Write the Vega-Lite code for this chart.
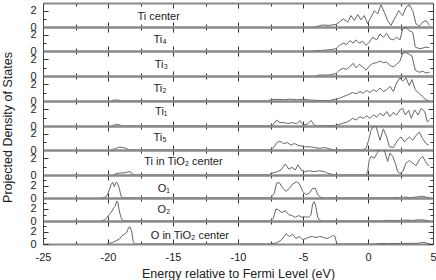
{
"$schema": "https://vega.github.io/schema/vega-lite/v6.json",
"padding": {"left": 1, "top": 2, "right": 0, "bottom": 0},
"background": "white",
"spacing": 0,
"bounds": "flush",
"datasets": {
"labels": [
{"p":"tc","label":"Ti center"},{"p":"t4","label":"Ti₄"},{"p":"t3","label":"Ti₃"},{"p":"t2","label":"Ti₂"},{"p":"t1","label":"Ti₁"},{"p":"t5","label":"Ti₅"},{"p":"tt","label":"Ti in TiO₂ center"},{"p":"o1","label":"O₁"},{"p":"o2","label":"O₂"},{"p":"ot","label":"O in TiO₂ center"}
],
"pdos": [
{"p":"tc","e":-4.2,"v":0},{"p":"tc","e":-4.0,"v":0.05},{"p":"tc","e":-3.49,"v":0.24},{"p":"tc","e":-2.97,"v":0.2},{"p":"tc","e":-2.46,"v":0.32},{"p":"tc","e":-2.21,"v":0.6},{"p":"tc","e":-1.9,"v":1.0},{"p":"tc","e":-1.56,"v":0.6},{"p":"tc","e":-1.31,"v":1.4},{"p":"tc","e":-1.05,"v":0.8},{"p":"tc","e":-0.79,"v":1.53},{"p":"tc","e":-0.54,"v":0.88},{"p":"tc","e":-0.28,"v":1.4},{"p":"tc","e":-0.03,"v":0.4},{"p":"tc","e":0.23,"v":1.2},{"p":"tc","e":0.49,"v":2.0},{"p":"tc","e":0.74,"v":1.6},{"p":"tc","e":1.0,"v":2.73},{"p":"tc","e":1.26,"v":1.8},{"p":"tc","e":1.51,"v":0.8},{"p":"tc","e":1.77,"v":0.2},{"p":"tc","e":2.1,"v":1.2},{"p":"tc","e":2.36,"v":2.0},{"p":"tc","e":2.67,"v":1.4},{"p":"tc","e":2.92,"v":2.4},{"p":"tc","e":3.18,"v":2.73},{"p":"tc","e":3.44,"v":2.0},{"p":"tc","e":3.69,"v":0.4},{"p":"tc","e":3.95,"v":0.08},{"p":"tc","e":4.21,"v":0.6},{"p":"tc","e":4.46,"v":0.8},{"p":"tc","e":4.72,"v":0.2},
{"p":"t4","e":-4.3,"v":0},{"p":"t4","e":-4.0,"v":0.05},{"p":"t4","e":-3.5,"v":0.08},{"p":"t4","e":-3.0,"v":0.15},{"p":"t4","e":-2.46,"v":0.28},{"p":"t4","e":-2.2,"v":0.68},{"p":"t4","e":-1.9,"v":0.96},{"p":"t4","e":-1.64,"v":0.8},{"p":"t4","e":-1.38,"v":1.29},{"p":"t4","e":-1.13,"v":0.96},{"p":"t4","e":-0.92,"v":1.37},{"p":"t4","e":-0.67,"v":0.96},{"p":"t4","e":-0.41,"v":1.2},{"p":"t4","e":-0.15,"v":0.68},{"p":"t4","e":0.1,"v":1.08},{"p":"t4","e":0.36,"v":1.69},{"p":"t4","e":0.67,"v":1.37},{"p":"t4","e":0.92,"v":2.09},{"p":"t4","e":1.18,"v":1.69},{"p":"t4","e":1.44,"v":2.17},{"p":"t4","e":1.69,"v":1.49},{"p":"t4","e":1.95,"v":1.37},{"p":"t4","e":2.2,"v":1.69},{"p":"t4","e":2.46,"v":1.37},{"p":"t4","e":2.67,"v":2.69},{"p":"t4","e":2.92,"v":2.89},{"p":"t4","e":3.18,"v":2.49},{"p":"t4","e":3.44,"v":2.29},{"p":"t4","e":3.64,"v":0.48},{"p":"t4","e":3.95,"v":0.28},{"p":"t4","e":4.21,"v":0.36},{"p":"t4","e":4.46,"v":0.48},{"p":"t4","e":4.72,"v":0.4},
{"p":"t3","e":-4.0,"v":0},{"p":"t3","e":-3.8,"v":0.1},{"p":"t3","e":-3.0,"v":0.12},{"p":"t3","e":-2.46,"v":0.28},{"p":"t3","e":-2.2,"v":0.68},{"p":"t3","e":-1.9,"v":0.92},{"p":"t3","e":-1.64,"v":0.76},{"p":"t3","e":-1.38,"v":1.16},{"p":"t3","e":-1.13,"v":1.49},{"p":"t3","e":-0.92,"v":0.96},{"p":"t3","e":-0.67,"v":1.37},{"p":"t3","e":-0.41,"v":1.08},{"p":"t3","e":-0.15,"v":0.68},{"p":"t3","e":0.1,"v":1.16},{"p":"t3","e":0.36,"v":1.49},{"p":"t3","e":0.67,"v":1.57},{"p":"t3","e":0.92,"v":1.77},{"p":"t3","e":1.18,"v":1.57},{"p":"t3","e":1.44,"v":1.65},{"p":"t3","e":1.69,"v":1.24},{"p":"t3","e":1.95,"v":1.08},{"p":"t3","e":2.2,"v":1.37},{"p":"t3","e":2.46,"v":1.77},{"p":"t3","e":2.67,"v":2.69},{"p":"t3","e":2.92,"v":2.77},{"p":"t3","e":3.18,"v":2.57},{"p":"t3","e":3.38,"v":2.37},{"p":"t3","e":3.64,"v":0.68},{"p":"t3","e":3.95,"v":0.44},{"p":"t3","e":4.21,"v":0.56},{"p":"t3","e":4.46,"v":0.36},{"p":"t3","e":4.72,"v":0.44},
{"p":"t2","e":-19.7,"v":0},{"p":"t2","e":-19.64,"v":0.1},{"p":"t2","e":-19.13,"v":0.1},{"p":"t2","e":-19.1,"v":0},{"p":"t2","e":-7.7,"v":0},{"p":"t2","e":-7.5,"v":0.15},{"p":"t2","e":-7.0,"v":0.2},{"p":"t2","e":-6.5,"v":0.15},{"p":"t2","e":-6.0,"v":0.22},{"p":"t2","e":-5.5,"v":0.15},{"p":"t2","e":-5.0,"v":0.2},{"p":"t2","e":-4.5,"v":0.12},{"p":"t2","e":-4.0,"v":0.08},{"p":"t2","e":-3.5,"v":0.05},{"p":"t2","e":-3.0,"v":0.05},{"p":"t2","e":-2.2,"v":0.32},{"p":"t2","e":-1.9,"v":0.52},{"p":"t2","e":-1.56,"v":0.72},{"p":"t2","e":-1.18,"v":1.0},{"p":"t2","e":-0.92,"v":0.84},{"p":"t2","e":-0.62,"v":1.12},{"p":"t2","e":-0.36,"v":0.92},{"p":"t2","e":-0.1,"v":1.24},{"p":"t2","e":0.15,"v":1.0},{"p":"t2","e":0.41,"v":1.33},{"p":"t2","e":0.67,"v":1.12},{"p":"t2","e":0.92,"v":1.53},{"p":"t2","e":1.18,"v":1.12},{"p":"t2","e":1.44,"v":1.33},{"p":"t2","e":1.69,"v":1.73},{"p":"t2","e":1.95,"v":1.12},{"p":"t2","e":2.2,"v":2.13},{"p":"t2","e":2.46,"v":2.73},{"p":"t2","e":2.67,"v":2.33},{"p":"t2","e":2.92,"v":2.73},{"p":"t2","e":3.18,"v":1.81},{"p":"t2","e":3.38,"v":2.53},{"p":"t2","e":3.64,"v":1.33},{"p":"t2","e":3.9,"v":0.92},{"p":"t2","e":4.21,"v":0.52},{"p":"t2","e":4.46,"v":0.12},{"p":"t2","e":4.72,"v":0.04},
{"p":"t1","e":-19.7,"v":0},{"p":"t1","e":-19.5,"v":0.12},{"p":"t1","e":-19.3,"v":0.2},{"p":"t1","e":-19.1,"v":0.12},{"p":"t1","e":-18.9,"v":0},{"p":"t1","e":-7.5,"v":0},{"p":"t1","e":-7.33,"v":0.1},{"p":"t1","e":-7.03,"v":0.7},{"p":"t1","e":-6.77,"v":0.4},{"p":"t1","e":-6.44,"v":0.4},{"p":"t1","e":-6.18,"v":0.3},{"p":"t1","e":-5.79,"v":0.4},{"p":"t1","e":-5.49,"v":0.25},{"p":"t1","e":-5.23,"v":0.65},{"p":"t1","e":-4.97,"v":0.1},{"p":"t1","e":-4.64,"v":0.25},{"p":"t1","e":-4.38,"v":0.65},{"p":"t1","e":-4.13,"v":0.1},{"p":"t1","e":-3.87,"v":0},{"p":"t1","e":-3.1,"v":0.05},{"p":"t1","e":-2.6,"v":0.05},{"p":"t1","e":-2.33,"v":0.15},{"p":"t1","e":-1.95,"v":0.3},{"p":"t1","e":-1.56,"v":0.5},{"p":"t1","e":-1.18,"v":0.9},{"p":"t1","e":-0.92,"v":0.7},{"p":"t1","e":-0.62,"v":1.1},{"p":"t1","e":-0.36,"v":0.9},{"p":"t1","e":-0.1,"v":1.2},{"p":"t1","e":0.15,"v":0.9},{"p":"t1","e":0.41,"v":1.3},{"p":"t1","e":0.67,"v":1.05},{"p":"t1","e":0.92,"v":1.5},{"p":"t1","e":1.18,"v":1.2},{"p":"t1","e":1.44,"v":1.7},{"p":"t1","e":1.69,"v":1.1},{"p":"t1","e":1.95,"v":1.6},{"p":"t1","e":2.2,"v":1.3},{"p":"t1","e":2.46,"v":1.9},{"p":"t1","e":2.67,"v":2.1},{"p":"t1","e":2.87,"v":1.3},{"p":"t1","e":3.13,"v":1.85},{"p":"t1","e":3.33,"v":0.9},{"p":"t1","e":3.59,"v":1.9},{"p":"t1","e":3.85,"v":1.3},{"p":"t1","e":4.1,"v":2.1},{"p":"t1","e":4.36,"v":1.7},{"p":"t1","e":4.56,"v":0.5},{"p":"t1","e":4.72,"v":0.7},
{"p":"t5","e":-19.8,"v":0},{"p":"t5","e":-19.5,"v":0.15},{"p":"t5","e":-19.13,"v":0.35},{"p":"t5","e":-18.8,"v":0.3},{"p":"t5","e":-18.4,"v":0.05},{"p":"t5","e":-18.2,"v":0},{"p":"t5","e":-7.6,"v":0},{"p":"t5","e":-7.46,"v":0.1},{"p":"t5","e":-7.2,"v":0.4},{"p":"t5","e":-7.03,"v":0.9},{"p":"t5","e":-6.77,"v":1.1},{"p":"t5","e":-6.51,"v":0.8},{"p":"t5","e":-6.18,"v":0.9},{"p":"t5","e":-5.92,"v":0.6},{"p":"t5","e":-5.67,"v":0.8},{"p":"t5","e":-5.41,"v":0.6},{"p":"t5","e":-5.15,"v":0.5},{"p":"t5","e":-4.9,"v":0.4},{"p":"t5","e":-4.51,"v":0.4},{"p":"t5","e":-4.13,"v":0.3},{"p":"t5","e":-3.74,"v":0.2},{"p":"t5","e":-3.36,"v":0.3},{"p":"t5","e":-3.1,"v":0.2},{"p":"t5","e":-2.85,"v":0.08},{"p":"t5","e":-2.6,"v":0},{"p":"t5","e":-0.41,"v":0},{"p":"t5","e":-0.15,"v":0.2},{"p":"t5","e":0.05,"v":1.2},{"p":"t5","e":0.23,"v":2.4},{"p":"t5","e":0.41,"v":2.9},{"p":"t5","e":0.55,"v":3.1},{"p":"t5","e":0.62,"v":2.9},{"p":"t5","e":0.92,"v":1.2},{"p":"t5","e":1.18,"v":2.6},{"p":"t5","e":1.44,"v":1.6},{"p":"t5","e":1.64,"v":0.4},{"p":"t5","e":1.95,"v":0.3},{"p":"t5","e":2.28,"v":1.2},{"p":"t5","e":2.54,"v":1.6},{"p":"t5","e":2.8,"v":1.0},{"p":"t5","e":3.18,"v":1.6},{"p":"t5","e":3.44,"v":1.2},{"p":"t5","e":3.69,"v":1.8},{"p":"t5","e":3.95,"v":2.2},{"p":"t5","e":4.2,"v":1.4},{"p":"t5","e":4.46,"v":0.8},{"p":"t5","e":4.67,"v":0.6},
{"p":"tt","e":-19.6,"v":0},{"p":"tt","e":-19.4,"v":0.15},{"p":"tt","e":-19.0,"v":0.25},{"p":"tt","e":-18.7,"v":0.25},{"p":"tt","e":-18.4,"v":0.4},{"p":"tt","e":-18.2,"v":0.3},{"p":"tt","e":-18.05,"v":0},{"p":"tt","e":-7.6,"v":0},{"p":"tt","e":-7.46,"v":0.2},{"p":"tt","e":-7.2,"v":0.3},{"p":"tt","e":-6.95,"v":0.4},{"p":"tt","e":-6.69,"v":0.6},{"p":"tt","e":-6.36,"v":1.3},{"p":"tt","e":-6.1,"v":0.7},{"p":"tt","e":-5.85,"v":0.9},{"p":"tt","e":-5.59,"v":0.6},{"p":"tt","e":-5.38,"v":1.2},{"p":"tt","e":-5.15,"v":0.6},{"p":"tt","e":-4.9,"v":0.4},{"p":"tt","e":-4.51,"v":0.5},{"p":"tt","e":-4.13,"v":0.4},{"p":"tt","e":-3.74,"v":0.5},{"p":"tt","e":-3.36,"v":0.4},{"p":"tt","e":-3.1,"v":0.2},{"p":"tt","e":-2.85,"v":0.1},{"p":"tt","e":-2.5,"v":0},{"p":"tt","e":-0.15,"v":0},{"p":"tt","e":-0.03,"v":0.4},{"p":"tt","e":0.1,"v":1.8},{"p":"tt","e":0.23,"v":2.2},{"p":"tt","e":0.49,"v":2.0},{"p":"tt","e":0.67,"v":2.5},{"p":"tt","e":0.87,"v":3.0},{"p":"tt","e":1.08,"v":3.2},{"p":"tt","e":1.26,"v":2.9},{"p":"tt","e":1.51,"v":1.6},{"p":"tt","e":1.69,"v":2.6},{"p":"tt","e":1.9,"v":2.2},{"p":"tt","e":2.1,"v":1.4},{"p":"tt","e":2.28,"v":0.4},{"p":"tt","e":2.46,"v":0.2},{"p":"tt","e":2.67,"v":0.4},{"p":"tt","e":2.92,"v":1.4},{"p":"tt","e":3.18,"v":1.7},{"p":"tt","e":3.44,"v":1.4},{"p":"tt","e":3.69,"v":1.1},{"p":"tt","e":3.95,"v":1.8},{"p":"tt","e":4.21,"v":2.2},{"p":"tt","e":4.41,"v":1.6},{"p":"tt","e":4.59,"v":1.2},{"p":"tt","e":4.72,"v":1.1},
{"p":"o1","e":-20.5,"v":0},{"p":"o1","e":-20.28,"v":0.1},{"p":"o1","e":-20.1,"v":0.35},{"p":"o1","e":-20.0,"v":0.8},{"p":"o1","e":-19.85,"v":1.6},{"p":"o1","e":-19.77,"v":2.2},{"p":"o1","e":-19.64,"v":2.6},{"p":"o1","e":-19.51,"v":1.9},{"p":"o1","e":-19.38,"v":2.6},{"p":"o1","e":-19.25,"v":2.4},{"p":"o1","e":-19.13,"v":1.6},{"p":"o1","e":-19.0,"v":0.3},{"p":"o1","e":-18.9,"v":0.1},{"p":"o1","e":-18.7,"v":0},{"p":"o1","e":-7.6,"v":0},{"p":"o1","e":-7.46,"v":0.05},{"p":"o1","e":-7.2,"v":0.8},{"p":"o1","e":-7.03,"v":2.45},{"p":"o1","e":-6.82,"v":2.55},{"p":"o1","e":-6.56,"v":1.6},{"p":"o1","e":-6.31,"v":1.1},{"p":"o1","e":-6.05,"v":1.6},{"p":"o1","e":-5.8,"v":2.3},{"p":"o1","e":-5.5,"v":2.7},{"p":"o1","e":-5.28,"v":2.35},{"p":"o1","e":-5.03,"v":1.1},{"p":"o1","e":-4.77,"v":0.55},{"p":"o1","e":-4.51,"v":0.8},{"p":"o1","e":-4.26,"v":1.6},{"p":"o1","e":-4.05,"v":1.6},{"p":"o1","e":-3.87,"v":0.55},{"p":"o1","e":-3.62,"v":0.1},{"p":"o1","e":-3.36,"v":0},{"p":"o1","e":1.8,"v":0},{"p":"o1","e":2.15,"v":0.1},{"p":"o1","e":2.5,"v":0.05},{"p":"o1","e":2.92,"v":0.15},{"p":"o1","e":3.2,"v":0.05},{"p":"o1","e":3.44,"v":0.1},{"p":"o1","e":3.95,"v":0.2},{"p":"o1","e":4.2,"v":0.3},{"p":"o1","e":4.46,"v":0.15},{"p":"o1","e":4.72,"v":0.05},
{"p":"o2","e":-20.5,"v":0},{"p":"o2","e":-20.28,"v":0.15},{"p":"o2","e":-20.1,"v":0.55},{"p":"o2","e":-19.9,"v":1.1},{"p":"o2","e":-19.69,"v":1.65},{"p":"o2","e":-19.56,"v":2.2},{"p":"o2","e":-19.44,"v":2.45},{"p":"o2","e":-19.33,"v":3.3},{"p":"o2","e":-19.23,"v":3.0},{"p":"o2","e":-19.13,"v":1.65},{"p":"o2","e":-19.0,"v":0.55},{"p":"o2","e":-18.87,"v":0.15},{"p":"o2","e":-18.67,"v":0},{"p":"o2","e":-7.6,"v":0},{"p":"o2","e":-7.46,"v":0.05},{"p":"o2","e":-7.28,"v":0.5},{"p":"o2","e":-7.08,"v":2.0},{"p":"o2","e":-6.87,"v":1.8},{"p":"o2","e":-6.62,"v":1.4},{"p":"o2","e":-6.36,"v":1.7},{"p":"o2","e":-6.1,"v":1.05},{"p":"o2","e":-5.85,"v":0.9},{"p":"o2","e":-5.59,"v":0.6},{"p":"o2","e":-5.33,"v":0.9},{"p":"o2","e":-5.08,"v":0.6},{"p":"o2","e":-4.82,"v":0.7},{"p":"o2","e":-4.56,"v":0.6},{"p":"o2","e":-4.38,"v":1.05},{"p":"o2","e":-4.26,"v":2.8},{"p":"o2","e":-4.13,"v":3.2},{"p":"o2","e":-4.0,"v":2.25},{"p":"o2","e":-3.87,"v":0.6},{"p":"o2","e":-3.74,"v":0.15},{"p":"o2","e":-3.5,"v":0},{"p":"o2","e":1.0,"v":0},{"p":"o2","e":1.5,"v":0.1},{"p":"o2","e":2.0,"v":0.1},{"p":"o2","e":2.5,"v":0.05},{"p":"o2","e":2.92,"v":0.15},{"p":"o2","e":3.44,"v":0.1},{"p":"o2","e":3.7,"v":0.15},{"p":"o2","e":4.2,"v":0.2},{"p":"o2","e":4.46,"v":0.1},{"p":"o2","e":4.72,"v":0.05},
{"p":"ot","e":-20.1,"v":0},{"p":"ot","e":-19.9,"v":0.1},{"p":"ot","e":-19.64,"v":0.25},{"p":"ot","e":-19.38,"v":0.55},{"p":"ot","e":-19.13,"v":0.8},{"p":"ot","e":-18.92,"v":1.35},{"p":"ot","e":-18.75,"v":1.6},{"p":"ot","e":-18.56,"v":1.9},{"p":"ot","e":-18.41,"v":2.7},{"p":"ot","e":-18.3,"v":2.85},{"p":"ot","e":-18.16,"v":1.9},{"p":"ot","e":-18.05,"v":0.25},{"p":"ot","e":-17.9,"v":0},{"p":"ot","e":-7.6,"v":0},{"p":"ot","e":-7.46,"v":0.05},{"p":"ot","e":-7.08,"v":0.15},{"p":"ot","e":-6.69,"v":0.6},{"p":"ot","e":-6.3,"v":1.7},{"p":"ot","e":-6.05,"v":1.25},{"p":"ot","e":-5.79,"v":1.6},{"p":"ot","e":-5.54,"v":0.9},{"p":"ot","e":-5.28,"v":1.25},{"p":"ot","e":-5.03,"v":0.7},{"p":"ot","e":-4.77,"v":0.9},{"p":"ot","e":-4.51,"v":1.15},{"p":"ot","e":-4.26,"v":1.25},{"p":"ot","e":-4.0,"v":1.05},{"p":"ot","e":-3.74,"v":1.25},{"p":"ot","e":-3.49,"v":1.15},{"p":"ot","e":-3.23,"v":0.9},{"p":"ot","e":-2.97,"v":1.05},{"p":"ot","e":-2.72,"v":1.4},{"p":"ot","e":-2.54,"v":1.25},{"p":"ot","e":-2.41,"v":0.15},{"p":"ot","e":-2.3,"v":0},{"p":"ot","e":0.5,"v":0},{"p":"ot","e":1.0,"v":0.1},{"p":"ot","e":1.5,"v":0.05},{"p":"ot","e":2.0,"v":0.1},{"p":"ot","e":2.5,"v":0.05},{"p":"ot","e":3.0,"v":0.1},{"p":"ot","e":3.5,"v":0.1},{"p":"ot","e":4.0,"v":0.15},{"p":"ot","e":4.3,"v":0.3},{"p":"ot","e":4.5,"v":0.15},{"p":"ot","e":4.72,"v":0.05}
]
},
"vconcat": [
{"width": 390, "height": 24, "resolve": {"axis": {"x": "independent", "y": "independent"}}, "layer": [
 {"data": {"name": "pdos"}, "transform": [{"filter": "datum.p == 'tc'"}], "mark": {"type": "line", "color": "#666666", "strokeWidth": 1, "clip": true},
  "encoding": {"x": {"field": "e", "type": "quantitative", "scale": {"domain": [-25, 5], "nice": false, "zero": false}, "axis": {"orient": "bottom", "values": [-25,-22.5,-20,-17.5,-15,-12.5,-10,-7.5,-5,-2.5,0,2.5,5], "labels": false, "title": null, "tickSize": {"condition": {"test": "datum.value % 5 == 0", "value": -5}, "value": -3}}},
   "y": {"field": "v", "type": "quantitative", "scale": {"domain": [0, 2.95], "nice": false, "zero": false}, "axis": {"orient": "left", "values": [0,1,2], "labelExpr": "datum.value % 2 == 0 ? toString(datum.value) : ''", "title": null, "tickSize": {"condition": {"test": "datum.value % 2 == 0", "value": -5}, "value": -3}}}}},
 {"data": {"name": "labels"}, "transform": [{"filter": "datum.p == 'tc'"}], "mark": {"type": "text", "font": "Liberation Sans", "fontSize": 11, "color": "#222222", "baseline": "middle", "align": "center"},
  "encoding": {"x": {"datum": -16.1, "type": "quantitative", "axis": {"orient": "top", "values": [-25,-22.5,-20,-17.5,-15,-12.5,-10,-7.5,-5,-2.5,0,2.5,5], "labels": false, "title": null, "tickSize": {"condition": {"test": "datum.value % 5 == 0", "value": -5}, "value": -3}}},
   "y": {"datum": 1.2, "type": "quantitative", "axis": {"orient": "right", "values": [0,1,2], "labels": false, "title": null, "tickSize": {"condition": {"test": "datum.value % 2 == 0", "value": -5}, "value": -3}}},
   "text": {"field": "label"}}}
]},
{"width": 390, "height": 24, "resolve": {"axis": {"x": "independent", "y": "independent"}}, "layer": [
 {"data": {"name": "pdos"}, "transform": [{"filter": "datum.p == 't4'"}], "mark": {"type": "line", "color": "#666666", "strokeWidth": 1, "clip": true},
  "encoding": {"x": {"field": "e", "type": "quantitative", "scale": {"domain": [-25, 5], "nice": false, "zero": false}, "axis": {"orient": "bottom", "values": [-25,-22.5,-20,-17.5,-15,-12.5,-10,-7.5,-5,-2.5,0,2.5,5], "labels": false, "title": null, "tickSize": {"condition": {"test": "datum.value % 5 == 0", "value": -5}, "value": -3}}},
   "y": {"field": "v", "type": "quantitative", "scale": {"domain": [0, 2.95], "nice": false, "zero": false}, "axis": {"orient": "left", "values": [0,1,2], "labelExpr": "datum.value % 2 == 0 ? toString(datum.value) : ''", "title": null, "tickSize": {"condition": {"test": "datum.value % 2 == 0", "value": -5}, "value": -3}}}}},
 {"data": {"name": "labels"}, "transform": [{"filter": "datum.p == 't4'"}], "mark": {"type": "text", "font": "Liberation Sans", "fontSize": 11, "color": "#222222", "baseline": "middle", "align": "center"},
  "encoding": {"x": {"datum": -16.0, "type": "quantitative", "axis": {"orient": "top", "values": [-25,-22.5,-20,-17.5,-15,-12.5,-10,-7.5,-5,-2.5,0,2.5,5], "labels": false, "title": null, "tickSize": {"condition": {"test": "datum.value % 5 == 0", "value": -5}, "value": -3}}},
   "y": {"datum": 1.3, "type": "quantitative", "axis": {"orient": "right", "values": [0,1,2], "labels": false, "title": null, "tickSize": {"condition": {"test": "datum.value % 2 == 0", "value": -5}, "value": -3}}},
   "text": {"field": "label"}}}
]},
{"width": 390, "height": 25, "resolve": {"axis": {"x": "independent", "y": "independent"}}, "layer": [
 {"data": {"name": "pdos"}, "transform": [{"filter": "datum.p == 't3'"}], "mark": {"type": "line", "color": "#666666", "strokeWidth": 1, "clip": true},
  "encoding": {"x": {"field": "e", "type": "quantitative", "scale": {"domain": [-25, 5], "nice": false, "zero": false}, "axis": {"orient": "bottom", "values": [-25,-22.5,-20,-17.5,-15,-12.5,-10,-7.5,-5,-2.5,0,2.5,5], "labels": false, "title": null, "tickSize": {"condition": {"test": "datum.value % 5 == 0", "value": -5}, "value": -3}}},
   "y": {"field": "v", "type": "quantitative", "scale": {"domain": [0, 2.95], "nice": false, "zero": false}, "axis": {"orient": "left", "values": [0,1,2], "labelExpr": "datum.value % 2 == 0 ? toString(datum.value) : ''", "title": null, "tickSize": {"condition": {"test": "datum.value % 2 == 0", "value": -5}, "value": -3}}}}},
 {"data": {"name": "labels"}, "transform": [{"filter": "datum.p == 't3'"}], "mark": {"type": "text", "font": "Liberation Sans", "fontSize": 11, "color": "#222222", "baseline": "middle", "align": "center"},
  "encoding": {"x": {"datum": -15.9, "type": "quantitative", "axis": {"orient": "top", "values": [-25,-22.5,-20,-17.5,-15,-12.5,-10,-7.5,-5,-2.5,0,2.5,5], "labels": false, "title": null, "tickSize": {"condition": {"test": "datum.value % 5 == 0", "value": -5}, "value": -3}}},
   "y": {"datum": 1.29, "type": "quantitative", "axis": {"orient": "right", "values": [0,1,2], "labels": false, "title": null, "tickSize": {"condition": {"test": "datum.value % 2 == 0", "value": -5}, "value": -3}}},
   "text": {"field": "label"}}}
]},
{"width": 390, "height": 25, "resolve": {"axis": {"x": "independent", "y": "independent"}}, "layer": [
 {"data": {"name": "pdos"}, "transform": [{"filter": "datum.p == 't2'"}], "mark": {"type": "line", "color": "#666666", "strokeWidth": 1, "clip": true},
  "encoding": {"x": {"field": "e", "type": "quantitative", "scale": {"domain": [-25, 5], "nice": false, "zero": false}, "axis": {"orient": "bottom", "values": [-25,-22.5,-20,-17.5,-15,-12.5,-10,-7.5,-5,-2.5,0,2.5,5], "labels": false, "title": null, "tickSize": {"condition": {"test": "datum.value % 5 == 0", "value": -5}, "value": -3}}},
   "y": {"field": "v", "type": "quantitative", "scale": {"domain": [0, 2.95], "nice": false, "zero": false}, "axis": {"orient": "left", "values": [0,1,2], "labelExpr": "datum.value % 2 == 0 ? toString(datum.value) : ''", "title": null, "tickSize": {"condition": {"test": "datum.value % 2 == 0", "value": -5}, "value": -3}}}}},
 {"data": {"name": "labels"}, "transform": [{"filter": "datum.p == 't2'"}], "mark": {"type": "text", "font": "Liberation Sans", "fontSize": 11, "color": "#222222", "baseline": "middle", "align": "center"},
  "encoding": {"x": {"datum": -16.0, "type": "quantitative", "axis": {"orient": "top", "values": [-25,-22.5,-20,-17.5,-15,-12.5,-10,-7.5,-5,-2.5,0,2.5,5], "labels": false, "title": null, "tickSize": {"condition": {"test": "datum.value % 5 == 0", "value": -5}, "value": -3}}},
   "y": {"datum": 1.45, "type": "quantitative", "axis": {"orient": "right", "values": [0,1,2], "labels": false, "title": null, "tickSize": {"condition": {"test": "datum.value % 2 == 0", "value": -5}, "value": -3}}},
   "text": {"field": "label"}}}
]},
{"width": 390, "height": 25, "resolve": {"axis": {"x": "independent", "y": "independent"}}, "layer": [
 {"data": {"name": "pdos"}, "transform": [{"filter": "datum.p == 't1'"}], "mark": {"type": "line", "color": "#666666", "strokeWidth": 1, "clip": true},
  "encoding": {"x": {"field": "e", "type": "quantitative", "scale": {"domain": [-25, 5], "nice": false, "zero": false}, "axis": {"orient": "bottom", "values": [-25,-22.5,-20,-17.5,-15,-12.5,-10,-7.5,-5,-2.5,0,2.5,5], "labels": false, "title": null, "tickSize": {"condition": {"test": "datum.value % 5 == 0", "value": -5}, "value": -3}}},
   "y": {"field": "v", "type": "quantitative", "scale": {"domain": [0, 2.95], "nice": false, "zero": false}, "axis": {"orient": "left", "values": [0,1,2], "labelExpr": "datum.value % 2 == 0 ? toString(datum.value) : ''", "title": "Projected Density of States", "titleX": -31.5, "titleY": 26, "titleBaseline": "alphabetic", "tickSize": {"condition": {"test": "datum.value % 2 == 0", "value": -5}, "value": -3}}}}},
 {"data": {"name": "labels"}, "transform": [{"filter": "datum.p == 't1'"}], "mark": {"type": "text", "font": "Liberation Sans", "fontSize": 11, "color": "#222222", "baseline": "middle", "align": "center"},
  "encoding": {"x": {"datum": -15.9, "type": "quantitative", "axis": {"orient": "top", "values": [-25,-22.5,-20,-17.5,-15,-12.5,-10,-7.5,-5,-2.5,0,2.5,5], "labels": false, "title": null, "tickSize": {"condition": {"test": "datum.value % 5 == 0", "value": -5}, "value": -3}}},
   "y": {"datum": 1.64, "type": "quantitative", "axis": {"orient": "right", "values": [0,1,2], "labels": false, "title": null, "tickSize": {"condition": {"test": "datum.value % 2 == 0", "value": -5}, "value": -3}}},
   "text": {"field": "label"}}}
]},
{"width": 390, "height": 24, "resolve": {"axis": {"x": "independent", "y": "independent"}}, "layer": [
 {"data": {"name": "pdos"}, "transform": [{"filter": "datum.p == 't5'"}], "mark": {"type": "line", "color": "#666666", "strokeWidth": 1, "clip": true},
  "encoding": {"x": {"field": "e", "type": "quantitative", "scale": {"domain": [-25, 5], "nice": false, "zero": false}, "axis": {"orient": "bottom", "values": [-25,-22.5,-20,-17.5,-15,-12.5,-10,-7.5,-5,-2.5,0,2.5,5], "labels": false, "title": null, "tickSize": {"condition": {"test": "datum.value % 5 == 0", "value": -5}, "value": -3}}},
   "y": {"field": "v", "type": "quantitative", "scale": {"domain": [0, 2.95], "nice": false, "zero": false}, "axis": {"orient": "left", "values": [0,1,2], "labelExpr": "datum.value % 2 == 0 ? toString(datum.value) : ''", "title": null, "tickSize": {"condition": {"test": "datum.value % 2 == 0", "value": -5}, "value": -3}}}}},
 {"data": {"name": "labels"}, "transform": [{"filter": "datum.p == 't5'"}], "mark": {"type": "text", "font": "Liberation Sans", "fontSize": 11, "color": "#222222", "baseline": "middle", "align": "center"},
  "encoding": {"x": {"datum": -16.0, "type": "quantitative", "axis": {"orient": "top", "values": [-25,-22.5,-20,-17.5,-15,-12.5,-10,-7.5,-5,-2.5,0,2.5,5], "labels": false, "title": null, "tickSize": {"condition": {"test": "datum.value % 5 == 0", "value": -5}, "value": -3}}},
   "y": {"datum": 1.5, "type": "quantitative", "axis": {"orient": "right", "values": [0,1,2], "labels": false, "title": null, "tickSize": {"condition": {"test": "datum.value % 2 == 0", "value": -5}, "value": -3}}},
   "text": {"field": "label"}}}
]},
{"width": 390, "height": 25, "resolve": {"axis": {"x": "independent", "y": "independent"}}, "layer": [
 {"data": {"name": "pdos"}, "transform": [{"filter": "datum.p == 'tt'"}], "mark": {"type": "line", "color": "#666666", "strokeWidth": 1, "clip": true},
  "encoding": {"x": {"field": "e", "type": "quantitative", "scale": {"domain": [-25, 5], "nice": false, "zero": false}, "axis": {"orient": "bottom", "values": [-25,-22.5,-20,-17.5,-15,-12.5,-10,-7.5,-5,-2.5,0,2.5,5], "labels": false, "title": null, "tickSize": {"condition": {"test": "datum.value % 5 == 0", "value": -5}, "value": -3}}},
   "y": {"field": "v", "type": "quantitative", "scale": {"domain": [0, 2.95], "nice": false, "zero": false}, "axis": {"orient": "left", "values": [0,1,2], "labelExpr": "datum.value % 2 == 0 ? toString(datum.value) : ''", "title": null, "tickSize": {"condition": {"test": "datum.value % 2 == 0", "value": -5}, "value": -3}}}}},
 {"data": {"name": "labels"}, "transform": [{"filter": "datum.p == 'tt'"}], "mark": {"type": "text", "font": "Liberation Sans", "fontSize": 11, "color": "#222222", "baseline": "middle", "align": "center"},
  "encoding": {"x": {"datum": -14.2, "type": "quantitative", "axis": {"orient": "top", "values": [-25,-22.5,-20,-17.5,-15,-12.5,-10,-7.5,-5,-2.5,0,2.5,5], "labels": false, "title": null, "tickSize": {"condition": {"test": "datum.value % 5 == 0", "value": -5}, "value": -3}}},
   "y": {"datum": 1.52, "type": "quantitative", "axis": {"orient": "right", "values": [0,1,2], "labels": false, "title": null, "tickSize": {"condition": {"test": "datum.value % 2 == 0", "value": -5}, "value": -3}}},
   "text": {"field": "label"}}}
]},
{"width": 390, "height": 23, "resolve": {"axis": {"x": "independent", "y": "independent"}}, "layer": [
 {"data": {"name": "pdos"}, "transform": [{"filter": "datum.p == 'o1'"}], "mark": {"type": "line", "color": "#666666", "strokeWidth": 1, "clip": true},
  "encoding": {"x": {"field": "e", "type": "quantitative", "scale": {"domain": [-25, 5], "nice": false, "zero": false}, "axis": {"orient": "bottom", "values": [-25,-22.5,-20,-17.5,-15,-12.5,-10,-7.5,-5,-2.5,0,2.5,5], "labels": false, "title": null, "tickSize": {"condition": {"test": "datum.value % 5 == 0", "value": -5}, "value": -3}}},
   "y": {"field": "v", "type": "quantitative", "scale": {"domain": [0, 3.8], "nice": false, "zero": false}, "axis": {"orient": "left", "values": [0,1,2,3], "labelExpr": "datum.value % 2 == 0 ? toString(datum.value) : ''", "title": null, "tickSize": {"condition": {"test": "datum.value % 2 == 0", "value": -5}, "value": -3}}}}},
 {"data": {"name": "labels"}, "transform": [{"filter": "datum.p == 'o1'"}], "mark": {"type": "text", "font": "Liberation Sans", "fontSize": 11, "color": "#222222", "baseline": "middle", "align": "center"},
  "encoding": {"x": {"datum": -15.7, "type": "quantitative", "axis": {"orient": "top", "values": [-25,-22.5,-20,-17.5,-15,-12.5,-10,-7.5,-5,-2.5,0,2.5,5], "labels": false, "title": null, "tickSize": {"condition": {"test": "datum.value % 5 == 0", "value": -5}, "value": -3}}},
   "y": {"datum": 1.54, "type": "quantitative", "axis": {"orient": "right", "values": [0,1,2,3], "labels": false, "title": null, "tickSize": {"condition": {"test": "datum.value % 2 == 0", "value": -5}, "value": -3}}},
   "text": {"field": "label"}}}
]},
{"width": 390, "height": 23, "resolve": {"axis": {"x": "independent", "y": "independent"}}, "layer": [
 {"data": {"name": "pdos"}, "transform": [{"filter": "datum.p == 'o2'"}], "mark": {"type": "line", "color": "#666666", "strokeWidth": 1, "clip": true},
  "encoding": {"x": {"field": "e", "type": "quantitative", "scale": {"domain": [-25, 5], "nice": false, "zero": false}, "axis": {"orient": "bottom", "values": [-25,-22.5,-20,-17.5,-15,-12.5,-10,-7.5,-5,-2.5,0,2.5,5], "labels": false, "title": null, "tickSize": {"condition": {"test": "datum.value % 5 == 0", "value": -5}, "value": -3}}},
   "y": {"field": "v", "type": "quantitative", "scale": {"domain": [0, 3.8], "nice": false, "zero": false}, "axis": {"orient": "left", "values": [0,1,2,3], "labelExpr": "datum.value % 2 == 0 ? toString(datum.value) : ''", "title": null, "tickSize": {"condition": {"test": "datum.value % 2 == 0", "value": -5}, "value": -3}}}}},
 {"data": {"name": "labels"}, "transform": [{"filter": "datum.p == 'o2'"}], "mark": {"type": "text", "font": "Liberation Sans", "fontSize": 11, "color": "#222222", "baseline": "middle", "align": "center"},
  "encoding": {"x": {"datum": -15.7, "type": "quantitative", "axis": {"orient": "top", "values": [-25,-22.5,-20,-17.5,-15,-12.5,-10,-7.5,-5,-2.5,0,2.5,5], "labels": false, "title": null, "tickSize": {"condition": {"test": "datum.value % 5 == 0", "value": -5}, "value": -3}}},
   "y": {"datum": 1.8, "type": "quantitative", "axis": {"orient": "right", "values": [0,1,2,3], "labels": false, "title": null, "tickSize": {"condition": {"test": "datum.value % 2 == 0", "value": -5}, "value": -3}}},
   "text": {"field": "label"}}}
]},
{"width": 390, "height": 23, "resolve": {"axis": {"x": "independent", "y": "independent"}}, "layer": [
 {"data": {"name": "pdos"}, "transform": [{"filter": "datum.p == 'ot'"}], "mark": {"type": "line", "color": "#666666", "strokeWidth": 1, "clip": true},
  "encoding": {"x": {"field": "e", "type": "quantitative", "scale": {"domain": [-25, 5], "nice": false, "zero": false}, "axis": {"orient": "bottom", "values": [-25,-22.5,-20,-17.5,-15,-12.5,-10,-7.5,-5,-2.5,0,2.5,5], "labels": true, "labelExpr": "datum.value % 5 == 0 ? toString(datum.value) : ''", "title": "Energy relative to Fermi Level (eV)", "tickSize": {"condition": {"test": "datum.value % 5 == 0", "value": -5}, "value": -3}}},
   "y": {"field": "v", "type": "quantitative", "scale": {"domain": [0, 3.8], "nice": false, "zero": false}, "axis": {"orient": "left", "values": [0,1,2,3], "labelExpr": "datum.value % 2 == 0 ? toString(datum.value) : ''", "title": null, "tickSize": {"condition": {"test": "datum.value % 2 == 0", "value": -5}, "value": -3}}}}},
 {"data": {"name": "labels"}, "transform": [{"filter": "datum.p == 'ot'"}], "mark": {"type": "text", "font": "Liberation Sans", "fontSize": 11, "color": "#222222", "baseline": "middle", "align": "center"},
  "encoding": {"x": {"datum": -13.7, "type": "quantitative", "axis": {"orient": "top", "values": [-25,-22.5,-20,-17.5,-15,-12.5,-10,-7.5,-5,-2.5,0,2.5,5], "labels": false, "title": null, "tickSize": {"condition": {"test": "datum.value % 5 == 0", "value": -5}, "value": -3}}},
   "y": {"datum": 1.36, "type": "quantitative", "axis": {"orient": "right", "values": [0,1,2,3], "labels": false, "title": null, "tickSize": {"condition": {"test": "datum.value % 2 == 0", "value": -5}, "value": -3}}},
   "text": {"field": "label"}}}
]}
],
"config": {
 "view": {"stroke": null},
 "font": "Liberation Sans",
 "axis": {"grid": false, "domainColor": "#8a8a8a", "domainWidth": 2, "tickColor": "#333333", "tickWidth": 1, "labelFont": "Liberation Sans", "labelFontSize": 11, "labelColor": "#222222", "labelFlush": false, "labelOverlap": false, "titleFont": "Liberation Sans", "titleFontSize": 12.5, "titleFontWeight": "normal", "titleColor": "#222222", "zindex": 1},
 "axisLeft": {"domainColor": "#444444", "domainWidth": 1, "labelPadding": 12},
 "axisRight": {"domainColor": "#444444", "domainWidth": 1},
 "axisBottom": {"labelPadding": 12, "titlePadding": 3}
}
}
